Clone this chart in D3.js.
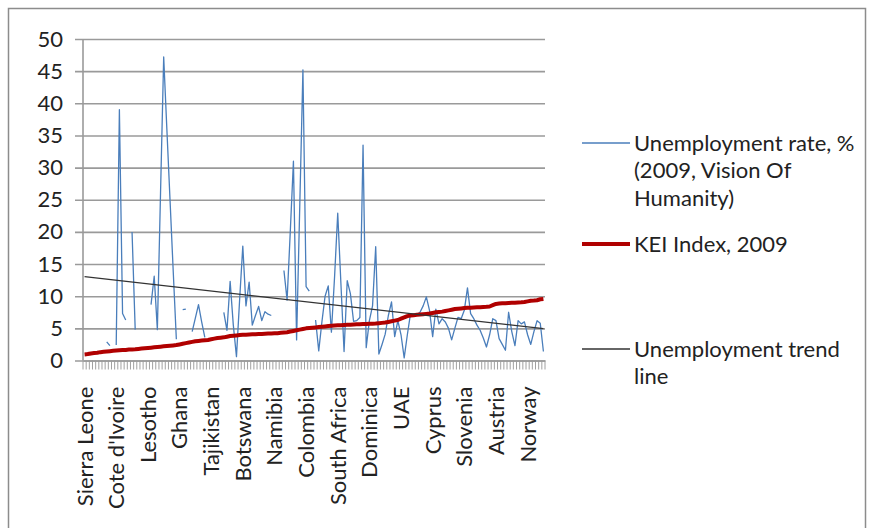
<!DOCTYPE html>
<html>
  <head>
    <script src="https://cdn.jsdelivr.net/npm/d3@7/dist/d3.min.js"></script>
    <style>
      body { margin: 0; background: #fff; }
      text { font-family: Lato, "Open Sans", sans-serif; fill: #222; }
    </style>
  </head>
  <body>
    <svg id="chart" width="872" height="528"></svg>
    <script>
      // 146 countries, sorted by KEI, one label every 10th
      var nCountries = 146;
      var tickLabels = ["Sierra Leone", "Cote d'Ivoire", "Lesotho", "Ghana", "Tajikistan",
        "Botswana", "Namibia", "Colombia", "South Africa", "Dominica", "UAE",
        "Cyprus", "Slovenia", "Austria", "Norway"];

      var unemployment = [
        null, null, null, null, null, null, null, 2.9, 2.3, null,
        2.4, 39.0, 7.3, 6.3, null, 20.0, 4.8, null, null, null,
        null, 8.7, 13.1, 4.8, 26.0, 47.2, 36.0, 25.0, 14.0, 3.3,
        null, 7.9, 8.0, null, 4.5, 6.6, 8.7, 6.0, 3.6, null,
        null, null, null, null, 7.5, 4.7, 12.3, 5.5, 0.6, 9.5,
        17.8, 8.5, 12.2, 5.5, 7.0, 8.4, 6.2, 7.6, 7.2, 7.0,
        null, null, null, 14.0, 9.4, 20.0, 31.0, 3.2, 24.0, 45.2,
        11.5, 10.8, null, 6.3, 1.5, 6.0, 10.0, 11.6, 4.4, 13.0,
        22.9, 12.0, 1.4, 12.4, 10.4, 6.1, 6.2, 6.7, 33.5, 2.0,
        6.2, 8.5, 17.7, 1.0, 2.5, 4.1, 7.0, 9.1, 3.7, 6.2,
        4.0, 0.4, 4.0, 7.3, 7.0, 7.1, 7.5, 8.5, 9.9, 7.8,
        3.7, 8.0, 5.7, 6.5, 6.0, 5.0, 3.2, 5.0, 6.7, 6.5,
        7.8, 11.3, 7.3, 6.5, 5.5, 4.7, 3.5, 2.1, 4.0, 6.5,
        6.2, 3.4, 2.5, 1.6, 7.5, 4.5, 2.3, 6.2, 5.7, 6.0,
        4.0, 2.5, 4.5, 6.2, 5.8, 1.4
      ];

      var kei = [
        0.95, 1.0, 1.1, 1.15, 1.2, 1.3, 1.35, 1.4, 1.45, 1.5,
        1.55, 1.6, 1.62, 1.65, 1.7, 1.72, 1.75, 1.8, 1.85, 1.9,
        1.95, 2.0, 2.05, 2.1, 2.15, 2.2, 2.25, 2.3, 2.35, 2.4,
        2.5, 2.6, 2.7, 2.8, 2.9, 3.0, 3.05, 3.1, 3.15, 3.2,
        3.3, 3.4, 3.5, 3.55, 3.6, 3.7, 3.8, 3.85, 3.9, 3.95,
        4.0, 4.02, 4.05, 4.07, 4.1, 4.12, 4.14, 4.16, 4.18, 4.2,
        4.22, 4.25, 4.3, 4.35, 4.4, 4.5, 4.6, 4.7, 4.8, 4.9,
        5.0, 5.05, 5.1, 5.15, 5.2, 5.25, 5.3, 5.35, 5.4, 5.45,
        5.47, 5.5, 5.52, 5.55, 5.57, 5.6, 5.62, 5.64, 5.66, 5.68,
        5.7, 5.72, 5.75, 5.8, 5.85, 5.9, 6.0, 6.1, 6.2, 6.3,
        6.5, 6.7, 6.9, 7.0, 7.05, 7.1, 7.15, 7.2, 7.25, 7.3,
        7.4, 7.5, 7.55, 7.6, 7.7, 7.8, 7.9, 8.0, 8.05, 8.1,
        8.15, 8.2, 8.22, 8.25, 8.27, 8.3, 8.32, 8.35, 8.4, 8.6,
        8.8, 8.85, 8.9, 8.92, 8.95, 8.98, 9.0, 9.02, 9.05, 9.1,
        9.2, 9.3, 9.32, 9.37, 9.52, 9.58
      ];

      // trend line values at first and last country
      var trendEnds = [13.05, 4.95];

      var yTicks = [0, 5, 10, 15, 20, 25, 30, 35, 40, 45, 50];

      var svg = d3.select("#chart");
      var plot = {left: 83, right: 545, top: 39, bottom: 360.5};

      // outer chart frame
      svg.append("rect").attr("x", 8.5).attr("y", 8.5).attr("width", 857).attr("height", 560)
        .attr("fill", "none").attr("stroke", "#8c8c8c").attr("stroke-width", 1.5);

      var idx = d3.range(nCountries);
      var x = d3.scaleBand().domain(idx).range([plot.left, plot.right]);
      var cx = i => x(i) + x.bandwidth() / 2;
      var y = d3.scaleLinear().domain([0, 50]).range([plot.bottom, plot.top]);

      // gridlines + y axis
      var gy = svg.append("g").attr("transform", `translate(${plot.left},0)`)
        .call(d3.axisLeft(y).tickValues(yTicks).tickSize(-(plot.right - plot.left)).tickPadding(20));
      gy.select(".domain").remove();
      gy.selectAll(".tick line").attr("x1", -8).attr("stroke", "#9a9a9a").attr("stroke-width", 1.6);
      gy.selectAll(".tick text").attr("font-size", 22).attr("font-family", "Lato").attr("fill", "#222");

      svg.append("line").attr("x1", plot.left).attr("x2", plot.left)
        .attr("y1", plot.top).attr("y2", plot.bottom)
        .attr("stroke", "#9a9a9a").attr("stroke-width", 1.6);

      // x axis tick marks between categories
      svg.append("g").selectAll("line").data(d3.range(nCountries + 1)).join("line")
        .attr("x1", i => plot.left + i * x.step()).attr("x2", i => plot.left + i * x.step())
        .attr("y1", plot.bottom).attr("y2", plot.bottom + 9)
        .attr("stroke", "#a0a0a0").attr("stroke-width", 1);

      var gx = svg.append("g").attr("transform", `translate(0,${plot.bottom})`)
        .call(d3.axisBottom(x).tickValues(tickLabels.map((d, k) => k * 10))
          .tickSize(0).tickFormat(i => tickLabels[i / 10]));
      gx.select(".domain").attr("stroke", "#9a9a9a").attr("stroke-width", 1.6);
      gx.selectAll(".tick text")
        .attr("font-size", 22).attr("font-family", "Lato").attr("fill", "#222")
        .attr("text-anchor", "end")
        .attr("transform", "rotate(-90)")
        .attr("x", -26).attr("y", 0).attr("dy", "0.36em");

      // series
      var uLine = d3.line().defined(d => d != null).x((d, i) => cx(i)).y(d => y(d));
      svg.append("path").attr("d", uLine(unemployment))
        .attr("fill", "none").attr("stroke", "#4a7ebb").attr("stroke-width", 1.3)
        .attr("stroke-linejoin", "round");

      var kLine = d3.line().x((d, i) => cx(i)).y(d => y(d));
      svg.append("path").attr("d", kLine(kei))
        .attr("fill", "none").attr("stroke", "#b00000").attr("stroke-width", 4)
        .attr("stroke-linejoin", "round");

      svg.append("path")
        .attr("d", d3.line().x((d, k) => cx(k * (nCountries - 1))).y(d => y(d))(trendEnds))
        .attr("fill", "none").attr("stroke", "#333").attr("stroke-width", 1.3);

      // legend
      var legend = [
        {lines: ["Unemployment rate, %", "(2009, Vision Of", "Humanity)"], y: 143, color: "#4a7ebb", w: 1.3},
        {lines: ["KEI Index, 2009"], y: 244, color: "#b00000", w: 4},
        {lines: ["Unemployment trend", "line"], y: 349, color: "#333", w: 1.3}
      ];
      var lg = svg.append("g").selectAll("g").data(legend).join("g");
      lg.append("line").attr("x1", 582).attr("x2", 630).attr("y1", d => d.y).attr("y2", d => d.y)
        .attr("stroke", d => d.color).attr("stroke-width", d => d.w);
      lg.each(function(d) {
        d3.select(this).selectAll("text").data(d.lines).join("text")
          .attr("x", 634).attr("y", (t, k) => d.y + 7.5 + k * 27.5)
          .attr("font-size", 22).text(t => t);
      });
    </script>
  </body>
</html>
